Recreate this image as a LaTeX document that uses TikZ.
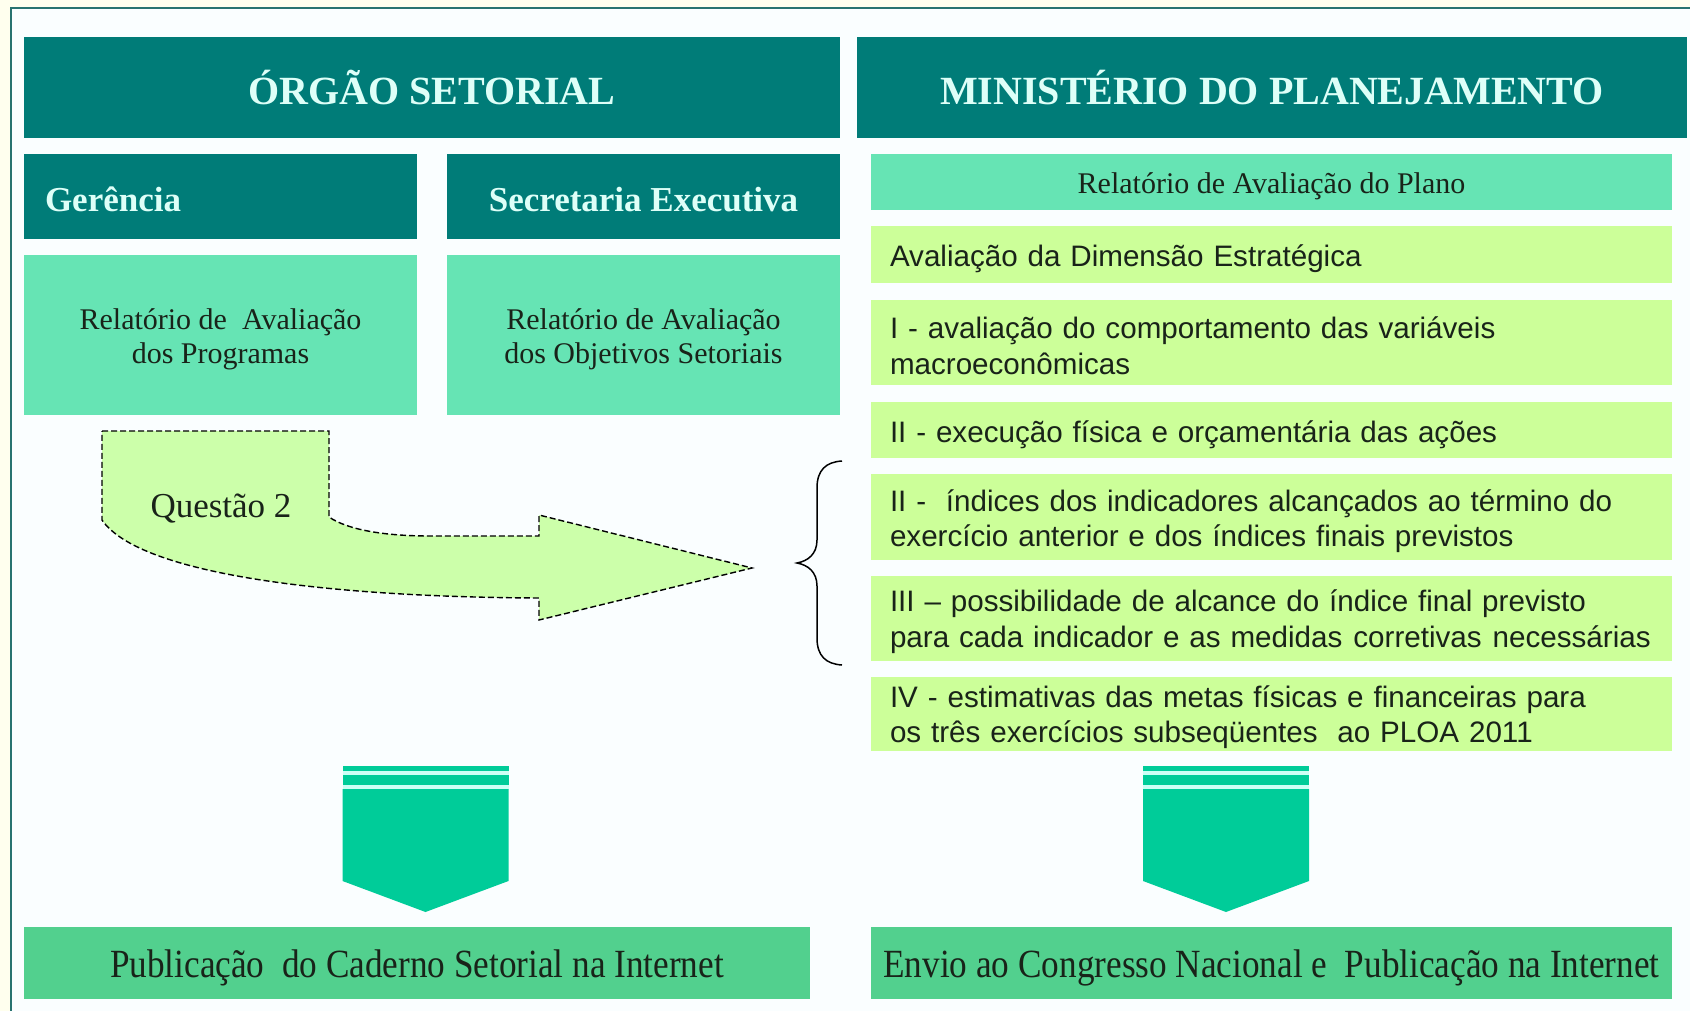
\documentclass[tikz,border=0pt]{standalone}
\usepackage{fontspec}
\usepackage{graphicx}
\setmainfont{Liberation Serif}
\newfontfamily\arialf{Liberation Sans}
\definecolor{cream}{RGB}{255,255,238}
\definecolor{panel}{RGB}{250,254,255}
\definecolor{frameline}{RGB}{40,115,112}
\definecolor{tealdark}{RGB}{0,124,120}
\definecolor{hdrtext}{RGB}{222,255,248}
\definecolor{mint}{RGB}{102,228,180}
\definecolor{lightgreen}{RGB}{204,255,153}
\definecolor{arrowgreen}{RGB}{0,204,153}
\definecolor{gapcyan}{RGB}{205,255,245}
\definecolor{bottomgreen}{RGB}{82,208,142}
\definecolor{qfill}{RGB}{204,255,170}
\definecolor{darktext}{RGB}{25,35,25}
\begin{document}
\begin{tikzpicture}[x=1pt,y=-1pt,
  hdr/.style={rectangle, fill=tealdark, text=hdrtext, inner sep=0pt,
    font=\bfseries\fontsize{40}{48}\selectfont},
  subhdr/.style={rectangle, fill=tealdark, inner sep=0pt},
  subtxt/.style={text=hdrtext, inner sep=0pt, font=\bfseries\fontsize{35}{42}\selectfont},
  relbox/.style={rectangle, fill=mint, inner sep=0pt},
  reltxt/.style={text=darktext, inner sep=0pt, align=center,
    font=\fontsize{30}{34}\selectfont},
  rowbox/.style={rectangle, fill=lightgreen, inner sep=0pt, minimum width=801pt},
  rowtxt/.style={text=darktext, inner sep=0pt, text width=763pt, align=left,
    font=\arialf\fontsize{29.6}{35.5}\selectfont},
  botbox/.style={rectangle, fill=bottomgreen, inner sep=0pt, minimum height=72pt},
  bottxt/.style={text=darktext, inner sep=0pt, font=\fontsize{40}{48}\selectfont},
  downarrow/.style={fill=arrowgreen},
  qarrow/.style={fill=qfill, draw=black, line width=1.4pt, dash pattern=on 6pt off 3pt},
  bracestyle/.style={draw=black, line width=1.5pt}
]
\useasboundingbox (0,0) rectangle (1690,1011);
\fill[cream] (0,0) rectangle (1690,1011);
\filldraw[fill=panel, draw=frameline, line width=1.6pt] (11,8) rectangle (1730,1050);

% headers
\node[hdr, minimum width=816pt, minimum height=101pt] (hL) at (432,87.5) {ÓRGÃO SETORIAL};
\node[hdr, minimum width=830pt, minimum height=101pt] (hR) at (1272,87.5) {MINISTÉRIO DO PLANEJAMENTO};

% sub headers
\node[subhdr, minimum width=393pt, minimum height=85pt] (ger) at (220.5,196.5) {};
\node[subtxt, text width=351pt, align=left] (gerT) at ([yshift=-3pt]ger.center) {Gerência};
\node[subhdr, minimum width=393pt, minimum height=85pt] (sec) at (643.5,196.5) {};
\node[subtxt] (secT) at ([yshift=-3pt]sec.center) {Secretaria Executiva};

% report boxes
\node[relbox, minimum width=393pt, minimum height=160pt] (rprog) at (220.5,335) {};
\node[reltxt] (rprogT) at ([yshift=-4pt]rprog.center) {Relatório de\ \ Avaliação\\dos Programas};
\node[relbox, minimum width=393pt, minimum height=160pt] (robj) at (643.5,335) {};
\node[reltxt] (robjT) at ([yshift=-4pt]robj.center) {Relatório de Avaliação\\dos Objetivos Setoriais};

% right column
\node[relbox, minimum width=801pt, minimum height=56pt] (plano) at (1271.5,182) {};
\node[reltxt] (planoT) at ([yshift=-4.5pt]plano.center) {Relatório de Avaliação do Plano};

\node[rowbox, minimum height=57pt] (dim) at (1271.5,254.5) {};
\node[rowtxt, anchor=west] (dimT) at ([xshift=19pt,yshift=-4.5pt]dim.west) {Avaliação da Dimensão Estratégica};
\node[rowbox, minimum height=85pt] (r1) at (1271.5,342.5) {};
\node[rowtxt, anchor=west] (r1T) at ([xshift=19pt,yshift=-3pt]r1.west) {I - avaliação do comportamento das variáveis\\macroeconômicas};
\node[rowbox, minimum height=56pt] (r2) at (1271.5,430) {};
\node[rowtxt, anchor=west] (r2T) at ([xshift=19pt,yshift=-4.5pt]r2.west) {II - execução física e orçamentária das ações};
\node[rowbox, minimum height=86pt] (r3) at (1271.5,517) {};
\node[rowtxt, anchor=west] (r3T) at ([xshift=19pt,yshift=-4pt]r3.west) {II -\ \ índices dos indicadores alcançados ao término do\\exercício anterior e dos índices finais previstos};
\node[rowbox, minimum height=85pt] (r4) at (1271.5,618.5) {};
\node[rowtxt, anchor=west, text width=785pt] (r4T) at ([xshift=19pt,yshift=-3pt]r4.west) {III – possibilidade de alcance do índice final previsto\\para cada indicador e as medidas\hspace{11pt}corretivas\hspace{11pt}necessárias};
\node[rowbox, minimum height=74pt] (r5) at (1271.5,714) {};
\node[rowtxt, anchor=west] (r5T) at ([xshift=19pt,yshift=-3pt]r5.west) {IV - estimativas das metas físicas e financeiras para\\os três exercícios subseqüentes\ \ ao PLOA 2011};

% Questão 2 arrow
\draw[qarrow] (102,431) -- (329,431) -- (329,517)
  .. controls (348,530) and (385,536) .. (430,536) -- (539,536)
  -- (539,515) -- (752,568) -- (539,620) -- (539,598)
  .. controls (330,597) and (140,575) .. (102,520) -- cycle;
\node[font=\fontsize{35}{42}\selectfont, text=darktext, inner sep=0pt] (q2) at (221,509) {Questão 2};

% brace
\draw[bracestyle] (842,461) .. controls (826,462) and (817,470) .. (817,488)
  -- (817,540) .. controls (817,554) and (808,561) .. (797,563)
  .. controls (808,565) and (817,572) .. (817,586)
  -- (817,638) .. controls (817,656) and (826,664) .. (842,665);

% down arrows
\foreach \cx in {425.5,1226} {
  \fill[gapcyan] (\cx-83,766) rectangle (\cx+83,790);
  \fill[downarrow] (\cx-83,766) rectangle (\cx+83,770.5);
  \fill[downarrow] (\cx-83,775) rectangle (\cx+83,785);
  \fill[downarrow] (\cx-83,789) -- (\cx+83,789) -- (\cx+83,881) -- (\cx,912) -- (\cx-83,881) -- cycle;
}

% bottom boxes
\node[botbox, minimum width=786pt] (bL) at (417,963) {};
\node[bottxt] (bLT) at ([yshift=-5pt]bL.center) {\scalebox{0.88}[1]{Publicação\ \ do Caderno Setorial na Internet}};
\node[botbox, minimum width=801pt] (bR) at (1271.5,963) {};
\node[bottxt] (bRT) at ([yshift=-5pt]bR.center) {\scalebox{0.88}[1]{Envio ao Congresso Nacional e\ \ Publicação na Internet}};
\end{tikzpicture}
\end{document}
